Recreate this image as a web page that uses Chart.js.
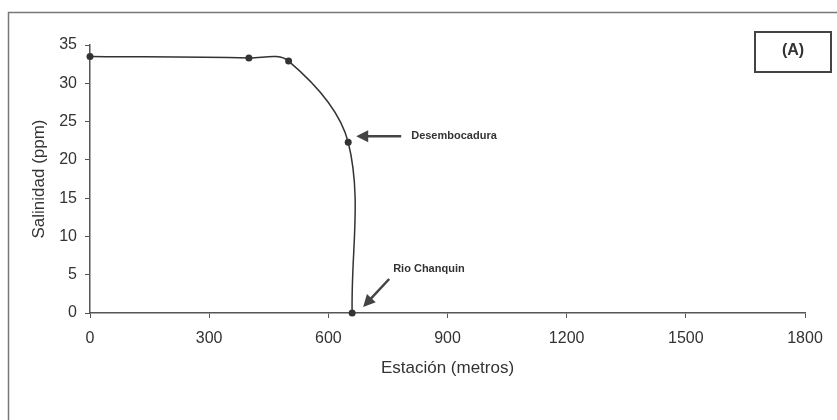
<!DOCTYPE html>
<html>
<head>
<meta charset="utf-8">
<script src="https://cdn.jsdelivr.net/npm/chart.js@4"></script>
<style>
  html, body { margin: 0; padding: 0; background: #fff; }
  #wrap { width: 837px; height: 420px; }
</style>
</head>
<body>
<div id="wrap"><canvas id="salChart" width="837" height="420"></canvas></div>
<script>
// 📦 DATA
const distances = [0, 400, 500, 650, 660];
const salinity = [33.5, 33.3, 32.9, 22.3, 0];
const xTickValues = [0, 300, 600, 900, 1200, 1500, 1800];
const yTickValues = [0, 5, 10, 15, 20, 25, 30, 35];
const pointNames = ["", "", "", "Desembocadura", "Rio Chanquin"];

const points = distances.map((d, i) => ({ x: d, y: salinity[i] }));

const inkColor = "#333";
const font = "'Liberation Sans', Arial, sans-serif";

// 🖼️ cadre + boite (A) + flèches
const decorPlugin = {
  id: "decor",
  beforeDraw(chart) {
    const ctx = chart.ctx;
    ctx.save();
    ctx.fillStyle = "#fff";
    ctx.fillRect(0, 0, chart.width, chart.height);
    ctx.strokeStyle = "#777";
    ctx.lineWidth = 1.5;
    ctx.strokeRect(8.5, 12.5, 850, 430);
    ctx.restore();
  },
  afterDraw(chart) {
    const ctx = chart.ctx;
    const xs = chart.scales.x;
    const ys = chart.scales.y;
    ctx.save();

    // boite (A)
    ctx.strokeStyle = "#444";
    ctx.lineWidth = 2;
    ctx.strokeRect(755, 32, 76, 40);
    ctx.fillStyle = inkColor;
    ctx.font = "bold 16px " + font;
    ctx.textAlign = "center";
    ctx.textBaseline = "middle";
    ctx.fillText("(A)", 793, 51);

    // flèches
    function arrow(x1, y1, x2, y2) {
      const ang = Math.atan2(y2 - y1, x2 - x1);
      const head = 12;
      ctx.strokeStyle = "#444";
      ctx.fillStyle = "#444";
      ctx.lineWidth = 2.5;
      ctx.beginPath();
      ctx.moveTo(x1, y1);
      ctx.lineTo(x2 - Math.cos(ang) * head * 0.8, y2 - Math.sin(ang) * head * 0.8);
      ctx.stroke();
      ctx.beginPath();
      ctx.moveTo(x2, y2);
      ctx.lineTo(x2 - head * Math.cos(ang) + 6 * Math.sin(ang), y2 - head * Math.sin(ang) - 6 * Math.cos(ang));
      ctx.lineTo(x2 - head * Math.cos(ang) - 6 * Math.sin(ang), y2 - head * Math.sin(ang) + 6 * Math.cos(ang));
      ctx.closePath();
      ctx.fill();
    }

    ctx.font = "bold 11px " + font;
    ctx.textAlign = "left";
    ctx.textBaseline = "middle";

    // Desembocadura
    const px3 = xs.getPixelForValue(distances[3]);
    const py3 = ys.getPixelForValue(salinity[3]);
    arrow(px3 + 53, py3 - 6, px3 + 8, py3 - 6);
    ctx.fillStyle = inkColor;
    ctx.fillText(pointNames[3], px3 + 63, py3 - 6);

    // Rio Chanquin
    const px4 = xs.getPixelForValue(distances[4]);
    const py4 = ys.getPixelForValue(salinity[4]);
    arrow(px4 + 37, py4 - 34, px4 + 11, py4 - 6);
    ctx.fillStyle = inkColor;
    ctx.fillText(pointNames[4], px4 + 41, py4 - 44);

    ctx.restore();
  }
};

new Chart(document.getElementById("salChart"), {
  type: "scatter",
  data: {
    datasets: [{
      data: points,
      showLine: true,
      clip: false,
      borderColor: inkColor,
      borderWidth: 1.5,
      backgroundColor: inkColor,
      pointRadius: 3.5,
      pointBorderWidth: 0,
      tension: 0.35
    }]
  },
  options: {
    responsive: false,
    animation: false,
    events: [],
    layout: { padding: { top: 45, right: 32, left: 0, bottom: 0 } },
    plugins: { legend: { display: false }, tooltip: { enabled: false } },
    scales: {
      x: {
        type: "linear",
        min: 0,
        max: 1800,
        afterBuildTicks(scale) { scale.ticks = xTickValues.map(v => ({ value: v })); },
        afterFit(scale) { scale.height = 107; },
        grid: { drawOnChartArea: false, tickLength: 5, color: "#555", lineWidth: 1 },
        border: { color: "#555", width: 1.5 },
        ticks: { color: inkColor, font: { family: font, size: 16 }, padding: 11, maxRotation: 0, callback: v => String(v) },
        title: { display: true, text: "Estación (metros)", color: inkColor, font: { family: font, size: 17 }, padding: { top: 0, bottom: 41 } }
      },
      y: {
        min: 0,
        max: 35,
        afterBuildTicks(scale) { scale.ticks = yTickValues.map(v => ({ value: v })); },
        afterFit(scale) { scale.width = 90; },
        grid: { drawOnChartArea: false, tickLength: 5, color: "#555", lineWidth: 1 },
        border: { color: "#555", width: 1.5 },
        ticks: { color: inkColor, font: { family: font, size: 16 }, padding: 8, callback: v => String(v) },
        title: { display: true, text: "Salinidad (ppm)", color: inkColor, font: { family: font, size: 17 }, padding: { top: 29, bottom: 0 } }
      }
    }
  },
  plugins: [decorPlugin]
});
</script>
</body>
</html>
